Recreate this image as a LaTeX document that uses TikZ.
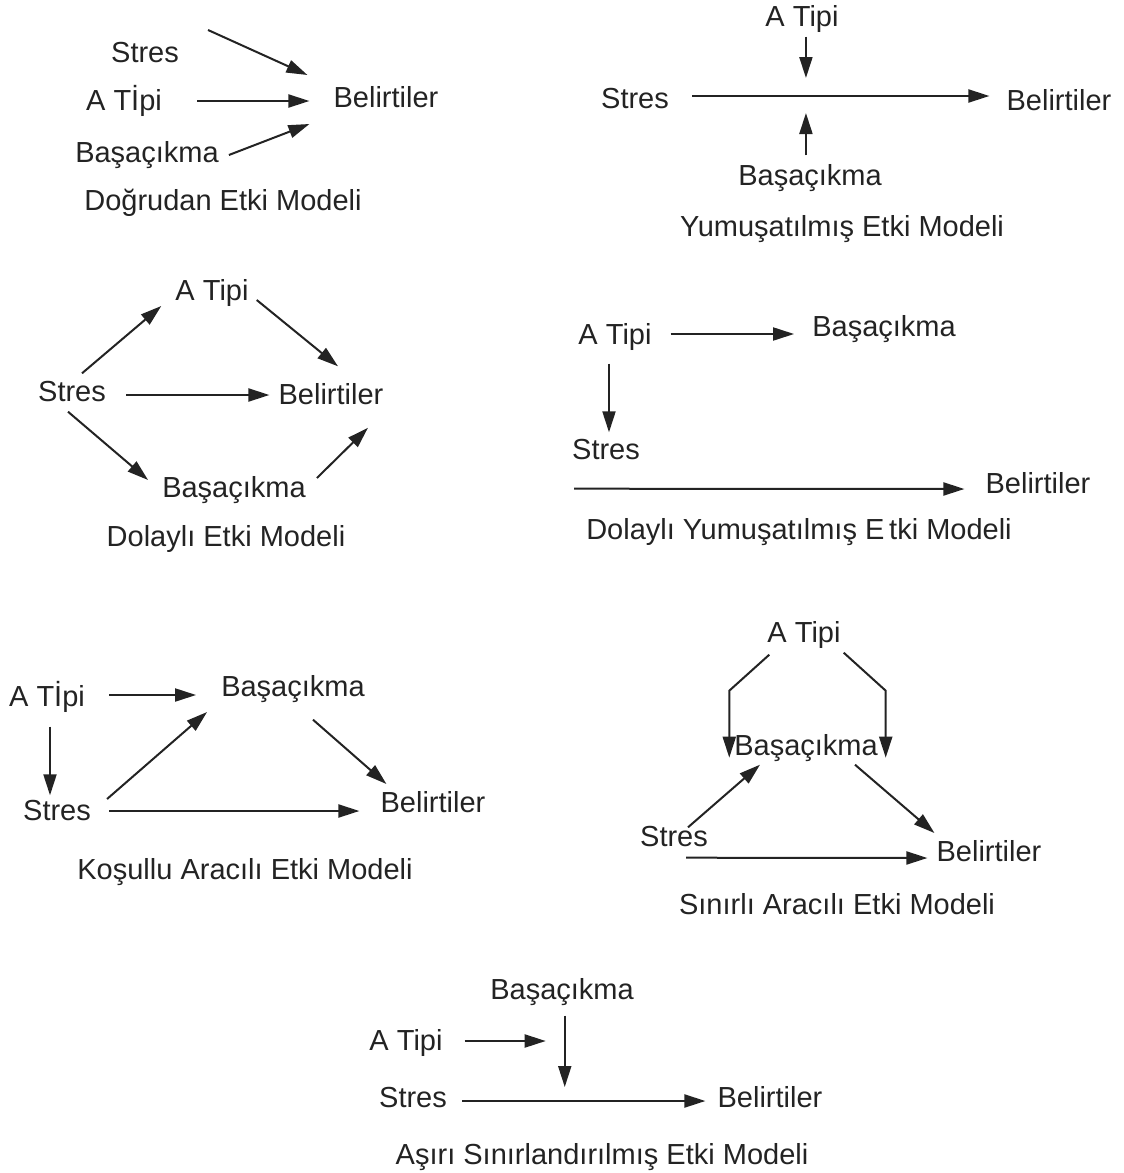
\documentclass[tikz,border=0pt]{standalone}
\usepackage{fontspec}
\setmainfont{Liberation Sans}
\usetikzlibrary{arrows.meta,calc}
\definecolor{ink}{RGB}{35,35,35}

\begin{document}
\begin{tikzpicture}[x=1pt,y=-1pt,
  lbl/.style={inner sep=0pt,text height=21pt,text depth=0pt,text=ink,font=\fontsize{29}{34}\selectfont},
  arr/.style={draw=ink,line width=2pt,-{Triangle[length=21pt,width=13pt]}}]

  \useasboundingbox (0,0) rectangle (1124,1173);

  \node[lbl] (s1) at (145,52) {Stres};
  \node[lbl] (a1) at (124,100) {A Tİpi};
  \node[lbl] (c1) at (147,152) {Başaçıkma};
  \node[lbl] (b1) at (386,97) {Belirtiler};
  \node[lbl] (t1) at (223,200) {Doğrudan Etki Modeli};
  \draw[arr] ($(s1.east)+(29,-22)$) -- ($(b1.west)+(-26,-22)$);
  \draw[arr] ($(a1.east)+(35,1)$) -- ($(b1.west)+(-24,4)$);
  \draw[arr] ($(c1.east)+(10,3)$) -- ($(b1.west)+(-24,27)$);

  \node[lbl] (a2) at (802,16) {A Tipi};
  \node[lbl] (s2) at (635,98) {Stres};
  \node[lbl] (b2) at (1059,100) {Belirtiler};
  \node[lbl] (c2) at (810,175) {Başaçıkma};
  \node[lbl] (t2) at (842,226) {Yumuşatılmış Etki Modeli};
  \draw[arr] ($(s2.east)+(23,-2)$) -- coordinate[pos=0.383] (m2) ($(b2.west)+(-17,-4)$);
  \draw[arr] ($(a2.south -| m2)+(0,10)$) -- ($(m2)+(0,-18)$);
  \draw[arr] ($(c2.north -| m2)+(0,-9)$) -- ($(m2)+(0,17)$);

  \node[lbl] (a3) at (212,290) {A Tipi};
  \node[lbl] (s3) at (72,391) {Stres};
  \node[lbl] (b3) at (331,394) {Belirtiler};
  \node[lbl] (c3) at (234,487) {Başaçıkma};
  \node[lbl] (t3) at (226,536) {Dolaylı Etki Modeli};
  \draw[arr] ($(s3.north)+(10,-7)$) -- ($(a3.west)+(-14,16)$);
  \draw[arr] ($(a3.east)+(8,10)$) -- ($(b3.north)+(7,-17)$);
  \draw[arr] ($(s3.east)+(20,4)$) -- ($(b3.west)+(-9,1)$);
  \draw[arr] ($(s3.south)+(-4,10)$) -- ($(c3.west)+(-14,-7)$);
  \draw[arr] ($(c3.east)+(11,-9)$) -- ($(b3.south)+(37,23)$);

  \node[lbl] (a4) at (615,334) {A Tipi};
  \node[lbl] (c4) at (884,326) {Başaçıkma};
  \node[lbl] (s4) at (606,449) {Stres};
  \node[lbl] (b4) at (1038,483) {Belirtiler};
  \node[lbl] (t4) at (799,529) {Dolaylı Yumuşatılmış E\,tki Modeli};
  \draw[arr] ($(a4.east)+(19,0)$) -- ($(c4.west)+(-18,8)$);
  \draw[arr] ($(a4.south)+(-6,19)$) -- ($(s4.north)+(3,-6)$);
  \draw[arr] ($(s4.south)+(-32,29)$) -- ($(b4.west)+(-21,6)$);

  \node[lbl] (a5) at (47,696) {A Tİpi};
  \node[lbl] (c5) at (293,686) {Başaçıkma};
  \node[lbl] (s5) at (57,810) {Stres};
  \node[lbl] (b5) at (433,802) {Belirtiler};
  \node[lbl] (t5) at (245,869) {Koşullu Aracılı Etki Modeli};
  \draw[arr] ($(a5.east)+(24,-1)$) -- ($(c5.west)+(-25,9)$);
  \draw[arr] ($(a5.south)+(3,20)$) -- ($(s5.north)+(-7,-4)$);
  \draw[arr] ($(s5.east)+(16,-11)$) -- ($(c5.west)+(-14,26)$);
  \draw[arr] ($(c5.south)+(20,23)$) -- ($(b5.west)+(6,-18)$);
  \draw[arr] ($(s5.east)+(18,1)$) -- ($(b5.west)+(-21,9)$);

  \node[lbl] (a6) at (804,632) {A Tipi};
  \node[lbl] (c6) at (806,745) {Başaçıkma};
  \node[lbl] (s6) at (674,836) {Stres};
  \node[lbl] (b6) at (989,851) {Belirtiler};
  \node[lbl] (t6) at (837,904) {Sınırlı Aracılı Etki Modeli};
  \draw[arr] ($(a6.south west)+(2,12)$) -- ++(-40,36) -- ++(0,67);
  \draw[arr] ($(a6.south east)+(3,10)$) -- ++(42,38) -- ++(0,67);
  \draw[arr] ($(s6.north)+(14,2)$) -- ($(c6.south)+(-46,9)$);
  \draw[arr] ($(c6.south)+(49,9)$) -- ($(b6.west)+(-2,-18)$);
  \draw[arr] ($(s6.south)+(12,11)$) -- ($(b6.west)+(-9,7)$);

  \node[lbl] (c7) at (562,989) {Başaçıkma};
  \node[lbl] (a7) at (406,1040) {A Tipi};
  \node[lbl] (s7) at (413,1097) {Stres};
  \node[lbl] (b7) at (770,1097) {Belirtiler};
  \node[lbl] (t7) at (602,1154) {Aşırı Sınırlandırılmış Etki Modeli};
  \draw[arr] ($(s7.east)+(15,4)$) -- coordinate[pos=0.422] (m7) ($(b7.west)+(-12,4)$);
  \draw[arr] ($(a7.east)+(22,1)$) -- ++(81,0);
  \draw[arr] ($(c7.south -| m7)+(0,16)$) -- ($(m7)+(0,-14)$);
\end{tikzpicture}
\end{document}
